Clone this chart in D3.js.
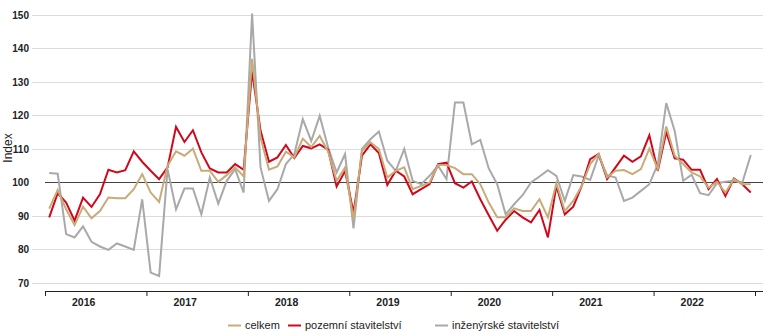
<!DOCTYPE html>
<html><head><meta charset="utf-8">
<script src="https://cdn.jsdelivr.net/npm/d3@7"></script>
<style>
html,body{margin:0;padding:0;background:#fff;}
svg{display:block;font-family:"Liberation Sans",Arial,sans-serif;}
</style></head>
<body><svg id="c" width="766" height="334"></svg>
<script>
const years = ["2016","2017","2018","2019","2020","2021","2022"];
const yTicks = [70,80,90,100,110,120,130,140,150];
const seriesNames = ["celkem","pozemní stavitelství","inženýrské stavitelství"];
const seriesColors = ["#c8ab78","#d0081c","#a9a9a9"];

const celkem = [
92.2,97.8,92.0,87.3,92.8,89.3,91.5,95.5,95.3,95.3,98.0,102.5,
97.0,94.2,105.0,109.3,108.0,110.1,103.5,103.5,100.2,102.2,104.5,101.8,
136.9,113.5,103.8,104.8,109.2,107.5,113.1,110.6,113.9,109.2,100.5,104.5,
89.0,109.5,112.0,110.0,101.5,103.5,104.5,98.0,99.0,100.0,105.2,105.2,
104.3,102.5,102.5,99.5,94.0,89.6,89.6,92.3,91.5,91.5,95.0,89.6,
99.8,91.5,94.5,99.0,105.5,108.5,101.5,103.5,103.7,102.5,104.0,110.1,
104.0,116.7,108.0,105.5,103.0,101.8,98.5,100.2,97.0,101.0,99.5,99.5];

const pozemni = [
89.6,96.8,94.0,88.6,95.5,92.7,96.5,103.8,103.0,103.7,109.3,106.2,
103.5,101.0,104.5,116.6,112.1,115.6,109.0,104.2,103.0,103.0,105.5,103.8,
133.2,115.5,106.2,107.5,111.2,107.3,110.9,110.2,111.4,109.8,98.8,103.4,
91.0,108.0,111.4,108.8,99.3,103.5,101.8,96.5,98.0,99.5,105.5,105.9,
99.8,98.5,100.3,95.0,90.2,85.6,88.9,91.5,89.6,88.1,91.8,83.6,
99.0,90.5,92.8,99.0,107.0,108.5,101.0,104.5,108.0,106.2,107.8,114.1,
103.5,115.1,107.2,106.8,103.8,103.8,98.0,101.0,96.0,101.2,99.5,97.0];

const inzenyrske = [
102.8,102.6,84.6,83.6,86.9,82.3,80.9,79.9,81.8,80.9,79.9,95.0,
73.1,72.1,104.0,92.0,98.2,98.2,90.5,101.5,93.7,100.5,104.0,97.0,
150.4,104.5,94.5,98.0,105.5,108.5,118.9,112.4,119.9,110.4,103.0,108.5,
86.3,110.0,112.9,115.2,106.5,103.5,110.0,100.5,99.5,102.0,105.0,101.0,
123.9,123.9,111.4,112.7,104.2,99.5,90.5,93.5,96.2,100.0,101.8,103.7,
102.0,94.5,102.2,101.8,100.8,108.0,102.2,101.5,94.5,95.5,97.5,99.5,
105.5,123.7,115.4,100.5,102.3,96.8,96.2,99.8,100.2,100.5,100.0,108.2];

const svg = d3.select("#c");
const nMonths = years.length * 12;
const x = d3.scaleLinear().domain([0, nMonths]).range([45, 755]);
const y = d3.scaleLinear().domain([70, 150]).range([283, 15]);

// gridlines
svg.append("g").selectAll("line").data(yTicks.filter(v => v !== 100)).join("line")
  .attr("x1", 32).attr("x2", 763)
  .attr("y1", d => y(d)).attr("y2", d => y(d))
  .attr("stroke", "#dcdcdc").attr("stroke-width", 1).attr("shape-rendering","crispEdges");

// y labels
svg.append("g").selectAll("text").data(yTicks).join("text")
  .attr("x", 29).attr("y", d => y(d)).attr("dy", "0.35em")
  .attr("text-anchor", "end").attr("font-size", 10).attr("font-weight", "bold")
  .attr("fill", "#222").text(d => d);

// Index label
svg.append("text").attr("transform", "translate(12,148) rotate(-90)")
  .attr("text-anchor", "middle").attr("font-size", 12).attr("fill", "#222").text("Index");

// 100 line
svg.append("line").attr("x1", 45).attr("x2", 763).attr("y1", y(100)).attr("y2", y(100))
  .attr("stroke", "#444").attr("stroke-width", 1).attr("shape-rendering","crispEdges");

// x axis
const xAxis = d3.axisBottom(x).tickValues(d3.range(0, nMonths + 1, 12)).tickSize(5).tickFormat("");
const gx = svg.append("g").attr("transform", "translate(0,291)").call(xAxis);
gx.select(".domain").attr("d", "M45,0.5H763").attr("stroke", "#222");
gx.selectAll(".tick line").attr("stroke", "#222");

svg.append("g").selectAll("text").data(years).join("text")
  .attr("x", (d, i) => x(i * 12 + 6) - 12).attr("y", 306)
  .attr("text-anchor", "middle").attr("font-size", 10.5).attr("font-weight", "bold")
  .attr("fill", "#222").text(d => d);

// lines
const line = d3.line().x((d, i) => x(i + 0.5)).y(d => y(d));
const drawOrder = [[inzenyrske, 2], [pozemni, 1], [celkem, 0]];
drawOrder.forEach(([vals, k]) => {
  svg.append("path").datum(vals).attr("d", line)
    .attr("fill", "none").attr("stroke", seriesColors[k])
    .attr("stroke-width", 2).attr("stroke-linejoin", "miter");
});

// legend
const legendX = [228, 288, 435];
const lg = svg.append("g");
seriesNames.forEach((name, k) => {
  lg.append("line").attr("x1", legendX[k]).attr("x2", legendX[k] + 13)
    .attr("y1", 325.5).attr("y2", 325.5).attr("stroke", seriesColors[k]).attr("stroke-width", 2);
  lg.append("text").attr("x", legendX[k] + 17).attr("y", 325.5).attr("dy", "0.35em")
    .attr("font-size", 11).attr("fill", "#222").text(name);
});
</script></body></html>
